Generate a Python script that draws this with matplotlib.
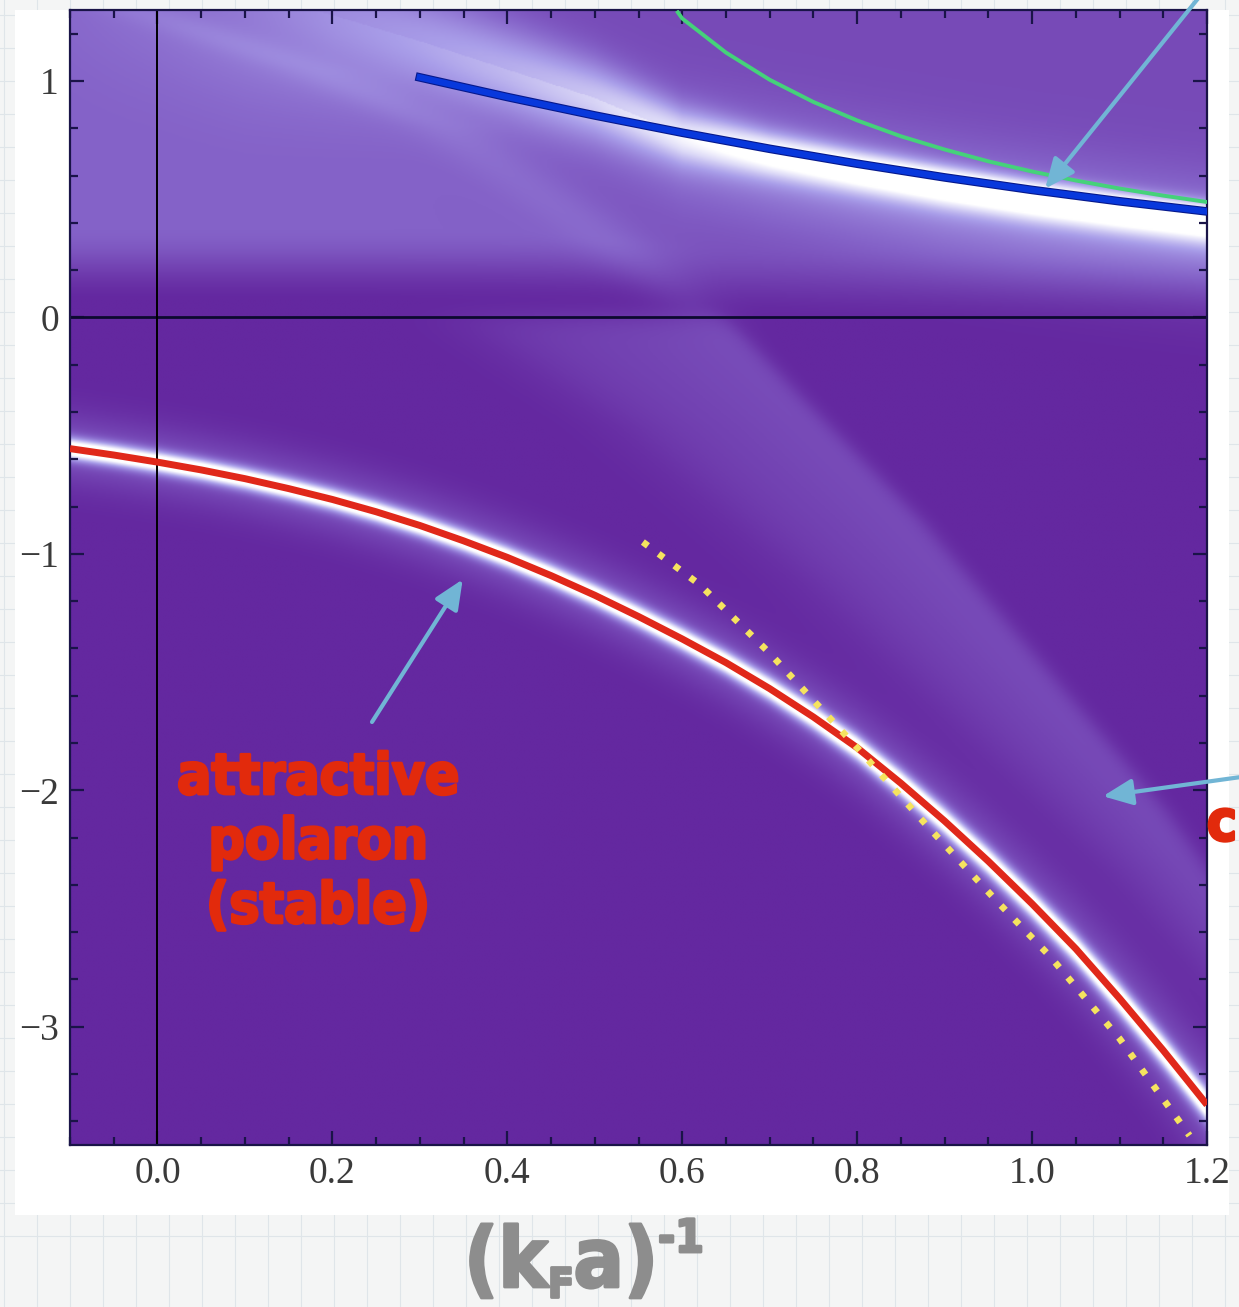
import numpy as np
import matplotlib
matplotlib.use("Agg")
import matplotlib.pyplot as plt
from matplotlib import font_manager
from matplotlib.colors import LinearSegmentedColormap
from matplotlib.patches import Rectangle
from matplotlib.lines import Line2D
from matplotlib.ticker import MultipleLocator, FixedLocator
import matplotlib.patheffects as pe

# ---------------- data ----------------
# attractive polaron (red)
red_x = [-0.1, -0.05, 0.0, 0.05, 0.1, 0.15, 0.2, 0.25, 0.3, 0.35, 0.4, 0.45, 0.5, 0.55,
         0.6, 0.65, 0.7, 0.75, 0.8, 0.85, 0.9, 0.95, 1.0, 1.05, 1.1, 1.15, 1.2]
red_y = [-0.555, -0.582, -0.612, -0.645, -0.682, -0.724, -0.770, -0.822, -0.88, -0.945, -1.015,
         -1.092, -1.175, -1.265, -1.36, -1.46, -1.57, -1.69, -1.82, -1.97, -2.13, -2.30, -2.48,
         -2.67, -2.88, -3.10, -3.33]
# molecule-like asymptote (yellow dotted)
yel_x = [0.555, 0.62, 0.70, 0.80, 0.88, 0.96, 1.02, 1.10, 1.18]
yel_y = [-0.95, -1.13, -1.42, -1.82, -2.15, -2.47, -2.70, -3.05, -3.46]
# repulsive polaron (blue)
blue_x = [0.30, 0.40, 0.50, 0.60, 0.70, 0.80, 0.90, 1.00, 1.10, 1.20]
blue_y = [1.015, 0.932, 0.854, 0.781, 0.713, 0.65, 0.592, 0.539, 0.491, 0.448]
# green curve
green_x = [0.595, 0.60, 0.65, 0.70, 0.75, 0.80, 0.85, 0.90, 0.95, 1.00, 1.05, 1.10, 1.15, 1.20]
green_y = [1.29, 1.264, 1.12, 1.005, 0.911, 0.833, 0.766, 0.71, 0.66, 0.617, 0.579, 0.545, 0.515, 0.488]

# spectral-weight features of the background map
rep_x = [-0.1, 0.0, 0.1, 0.2, 0.3, 0.4, 0.5, 0.6, 0.7, 0.8, 0.9, 1.0, 1.1, 1.2]
rep_y = [1.56, 1.47, 1.38, 1.28, 1.17, 1.05, 0.93, 0.775, 0.70, 0.635, 0.575, 0.52, 0.47, 0.425]
rep_amp = [0.05, 0.12, 0.22, 0.30, 0.35, 0.40, 0.47, 0.58, 0.75, 0.88, 0.95, 1.0, 1.0, 1.0]
rep_sig_up = [60, 55, 50, 42, 36, 30, 24, 18, 14, 12, 11, 10, 10, 10]
rep_sig_dn = [70, 65, 60, 50, 40, 32, 26, 20, 17, 16, 16, 16, 16, 16]
rep_tail_dn = [0.0, 0.0, 0.0, 0.03, 0.06, 0.10, 0.15, 0.22, 0.28, 0.32, 0.35, 0.36, 0.36, 0.36]
rep_tail_up = [0.0, 0.0, 0.0, 0.0, 0.02, 0.05, 0.08, 0.12, 0.15, 0.16, 0.16, 0.16, 0.16, 0.16]
# right edge of the continuum band (from bottom to top)
edge_y = [-2.7, -2.09, -1.48, -0.86, -0.33, 0.0, 0.13, 0.43, 0.81, 1.05, 1.3]
edge_x = [1.27, 1.153, 1.014, 0.873, 0.734, 0.65, 0.61, 0.5, 0.35, 0.2, 0.0]
# left edge of the continuum band below zero
band_l_y = [-3.0, -2.35, -1.74, -1.12, -0.46, 0.0, 0.3]
band_l_x = [1.24, 1.083, 0.909, 0.734, 0.525, 0.336, 0.25]

x_ticks = [0.0, 0.2, 0.4, 0.6, 0.8, 1.0, 1.2]
x_tick_labels = ["0.0", "0.2", "0.4", "0.6", "0.8", "1.0", "1.2"]
y_ticks = [-3, -2, -1, 0, 1]
y_tick_labels = ["\u22123", "\u22122", "\u22121", "0", "1"]

# ---------------- fonts ----------------
def find_condensed_bold():
    best = None
    for f in font_manager.fontManager.ttflist:
        st = str(f.stretch)
        w = f.weight
        try:
            w = int(w)
        except Exception:
            w = {"bold": 700, "heavy": 800, "black": 900, "semibold": 600, "demibold": 600}.get(str(w), 400)
        if st in ("condensed", "semi-condensed", "extra-condensed") and w >= 600:
            if best is None or "Liberation" in f.name:
                best = f.fname
    return best

cfont = find_condensed_bold()
if cfont is not None:
    hand_fp = font_manager.FontProperties(fname=cfont)
else:
    hand_fp = font_manager.FontProperties(family="DejaVu Sans", weight="bold")

W, H = 1239, 1307
fig = plt.figure(figsize=(W / 100, H / 100), dpi=100)
fig.patch.set_facecolor("#f4f5f5")

# grid-paper background
for gx in np.arange(4, W, 33):
    fig.add_artist(Line2D([gx / W, gx / W], [0, 1], color="#dfe5e9", lw=0.8, zorder=-3))
for gy in np.arange(H - 1236, H, 33):
    fig.add_artist(Line2D([0, 1], [gy / H, gy / H], color="#dfe5e9", lw=0.8, zorder=-3))
fig.add_artist(Rectangle((15 / W, 1 - 1215 / H), (1229 - 15) / W, (1215 - 10) / H,
                         transform=fig.transFigure, facecolor="white", edgecolor="none", zorder=-2))

ax = fig.add_axes([70 / W, 1 - 1145 / H, 1137 / W, 1135 / H])
xmin, xmax, ymin, ymax = -0.1, 1.2, -3.5, 1.3
PX = 1137 / (xmax - xmin)
PY = 1135 / (ymax - ymin)

# ---------------- background spectral map ----------------
nx, ny = 700, 1000
X, Y = np.meshgrid(np.linspace(xmin, xmax, nx), np.linspace(ymin, ymax, ny))

def perp_dist(cx, cy):
    cx = np.asarray(cx, float); cy = np.asarray(cy, float)
    yc = np.interp(X, cx, cy)
    sl = np.interp(X, cx, np.gradient(cy, cx)) * PY / PX
    return (Y - yc) * PY / np.sqrt(1 + sl ** 2)

def sig(z):
    return 1 / (1 + np.exp(-np.clip(z, -60, 60)))

I = np.zeros_like(X)
# continuum above zero
xR = np.interp(Y, edge_y, edge_x)
dxR = (X - xR) * PX
y0 = 0.06 * (1 - sig(dxR / 40)) - 0.02 * sig(dxR / 40)
t = np.clip((Y - y0) / 0.32, 0, 1)
up = 0.27 * t * t * (3 - 2 * t) * (Y > 0)
up *= (1 - 0.4 * sig((dxR - 10) / 35))
up += 0.06 * np.exp(-0.5 * ((dxR + 20) / 30) ** 2) * sig(Y / 0.04)
I += up
# continuum band below zero
xLb = np.interp(Y, band_l_y, band_l_x)
frac = np.clip((X - xLb) / np.maximum(xR - xLb, 1e-3), 0, 1)
inside = sig((X - xLb) * PX / 25) * sig(-(X - xR) * PX / 7)
I += inside * (0.08 + 0.10 * frac) * (1 - sig(Y / 0.03))
# repulsive branch
d = perp_dist(rep_x, rep_y)
s = np.where(d > 0, np.interp(X, rep_x, rep_sig_up), np.interp(X, rep_x, rep_sig_dn))
I += np.interp(X, rep_x, rep_amp) * np.exp(-0.5 * (d / s) ** 2)
I += np.where(d < 0, np.interp(X, rep_x, rep_tail_dn) * np.exp(-0.5 * (d / 50) ** 2),
              np.interp(X, rep_x, rep_tail_up) * np.exp(-0.5 * (d / 35) ** 2))
# attractive branch glow
d = perp_dist(red_x, red_y)
I += 1.15 * np.exp(-0.5 * (d / 7) ** 2) + 0.2 * np.exp(-0.5 * (d / 24) ** 2)
I = np.clip(I, 0, 1)

cmap = LinearSegmentedColormap.from_list(
    "pol", [(0, "#6428a0"), (0.27, "#8462c8"), (0.55, "#a99ee9"), (0.8, "#dcd9f7"), (1, "#ffffff")])
ax.imshow(I, extent=[xmin, xmax, ymin, ymax], origin="lower", aspect="auto",
          cmap=cmap, vmin=0, vmax=1, interpolation="bilinear", zorder=0)

ax.axhline(0, color="#0d0a30", lw=2.0, zorder=2)
ax.axvline(0, color="black", lw=1.4, zorder=2)

ax.plot(red_x, red_y, color="#e0281a", lw=5, solid_capstyle="butt", zorder=3)
ax.plot(yel_x, yel_y, color="#f5e35f", lw=4.8, linestyle=(0, (0.95, 2.0)), zorder=4)
ax.plot(blue_x, blue_y, color="#0838dc", lw=4.6, zorder=3,
        path_effects=[pe.withStroke(linewidth=6.2, foreground="#06188c")])
ax.plot(green_x, green_y, color="#45d27a", lw=2.8, zorder=3)

ax.set_xlim(xmin, xmax)
ax.set_ylim(ymin, ymax)
ax.xaxis.set_major_locator(FixedLocator(x_ticks))
ax.set_xticklabels(x_tick_labels)
ax.xaxis.set_minor_locator(MultipleLocator(0.05))
ax.yaxis.set_major_locator(FixedLocator(y_ticks))
ax.set_yticklabels(y_tick_labels)
ax.yaxis.set_minor_locator(MultipleLocator(0.2))
ax.tick_params(which="both", direction="in", top=True, right=True, color="#1a1448", width=1.6,
               labelsize=27, labelcolor="#3a3a3a", pad=8)
ax.tick_params(which="major", length=10)
ax.tick_params(which="minor", length=6)
for lab in ax.get_xticklabels() + ax.get_yticklabels():
    lab.set_fontfamily("Liberation Serif")
for sp in ax.spines.values():
    sp.set_color("#1a1448")
    sp.set_linewidth(1.6)

# ---------------- arrows ----------------
acol = "#71b5d5"
aprops = dict(arrowstyle="-|>,head_length=0.9,head_width=0.4", color=acol, lw=3, mutation_scale=20,
              shrinkA=0, shrinkB=0)
ax.annotate("", xy=(0.349, -1.108), xytext=(372, H - 722), textcoords="figure pixels",
            arrowprops=aprops, annotation_clip=False)
ax.annotate("", xy=(1.015, 0.545), xytext=(1200, H + 4), textcoords="figure pixels",
            arrowprops=aprops, annotation_clip=False)
ax.annotate("", xy=(1.081, -2.025), xytext=(W + 2, H - 777), textcoords="figure pixels",
            arrowprops=aprops, annotation_clip=False)

# ---------------- texts ----------------
tcol = "#e22a0c"
stroke = [pe.withStroke(linewidth=2.0, foreground=tcol)]
r = fig.canvas.get_renderer()
probe = fig.text(0, 0, "attractive", fontproperties=hand_fp, fontsize=40)
w0 = probe.get_window_extent(r).width
probe.remove()
fsz = 40 * 282 / w0
fig.text(318 / W, 1 - 843 / H, "attractive\npolaron\n(stable)", fontproperties=hand_fp,
         fontsize=fsz, color=tcol, ha="center", va="center", multialignment="center",
         linespacing=1.22, path_effects=stroke)
fig.text(1237 / W, 1 - 825 / H, "c", fontproperties=hand_fp, fontsize=fsz, color=tcol,
         ha="right", va="center", path_effects=stroke)

# x axis title (k_F a)^-1 composed of pieces
gcol = "#8d8d8d"
gstroke = [pe.withStroke(linewidth=2.0, foreground=gcol)]
pieces = [("(k", 1.0, 0.0), ("F", 0.5, -0.12), ("a)", 1.0, 0.0), ("-1", 0.55, 0.42)]

def compose(size, x0, base):
    arts = []
    x = x0
    for txt, sc, dy in pieces:
        tt = fig.text(x / W, (base + dy * size * 100 / 72) / H, txt, fontproperties=hand_fp,
                      fontsize=size * sc, color=gcol, ha="left", va="baseline", path_effects=gstroke)
        x += tt.get_window_extent(r).width
        arts.append(tt)
    return arts, x - x0

arts, tw = compose(50, 0, 20)
for a in arts:
    a.remove()
size = 50 * 240 / tw
arts, tw = compose(size, 0, 20)
for a in arts:
    a.remove()
compose(size, 584 - tw / 2, 20)

fig.savefig("out.png", dpi=100, facecolor=fig.get_facecolor())
